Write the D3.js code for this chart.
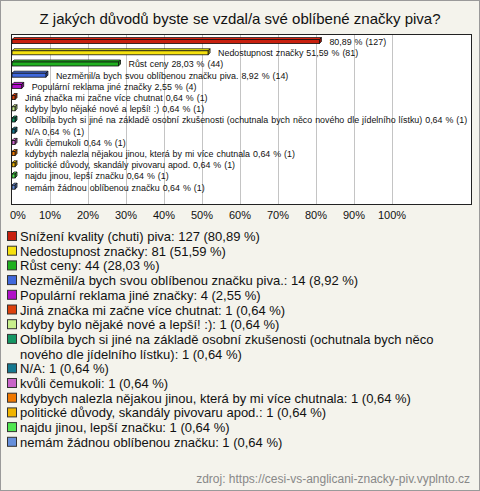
<!DOCTYPE html>
<html><head><meta charset="utf-8">
<script src="https://cdn.jsdelivr.net/npm/d3@7"></script>
<style>body{margin:0;background:#fff}svg{display:block}</style>
</head><body>
<script>
const title = "Z jakých důvodů byste se vzdal/a své oblíbené značky piva?";
const categories = [
  "Snížení kvality (chuti) piva",
  "Nedostupnost značky",
  "Růst ceny",
  "Nezměnil/a bych svou oblíbenou značku piva.",
  "Populární reklama jiné značky",
  "Jiná značka mi začne více chutnat",
  "kdyby bylo nějaké nové a lepší! :)",
  "Oblíbila bych si jiné na základě osobní zkušenosti (ochutnala bych něco nového dle jídelního lístku)",
  "N/A",
  "kvůli čemukoli",
  "kdybych nalezla nějakou jinou, která by mi více chutnala",
  "politické důvody, skandály pivovaru apod.",
  "najdu jinou, lepší značku",
  "nemám žádnou oblíbenou značku"
];
const counts = [127, 81, 44, 14, 4, 1, 1, 1, 1, 1, 1, 1, 1, 1];
const percents = [80.89, 51.59, 28.03, 8.92, 2.55, 0.64, 0.64, 0.64, 0.64, 0.64, 0.64, 0.64, 0.64, 0.64];
const showNameOnBar = [false, true, true, true, true, true, true, true, true, true, true, true, true, true];
const colors = ["#c8200f","#f5e10f","#20b020","#4068dc","#b010c8","#dc400c","#c8f08c","#149664","#147890","#c864c8","#f07800","#f0b400","#50e650","#6690dc"];
const ticks = [0,10,20,30,40,50,60,70,80,90,100];
const legendLines = [
  "Snížení kvality (chuti) piva: 127 (80,89 %)",
  "Nedostupnost značky: 81 (51,59 %)",
  "Růst ceny: 44 (28,03 %)",
  "Nezměnil/a bych svou oblíbenou značku piva.: 14 (8,92 %)",
  "Populární reklama jiné značky: 4 (2,55 %)",
  "Jiná značka mi začne více chutnat: 1 (0,64 %)",
  "kdyby bylo nějaké nové a lepší! :): 1 (0,64 %)",
  ["Oblíbila bych si jiné na základě osobní zkušenosti (ochutnala bych něco", "nového dle jídelního lístku): 1 (0,64 %)"],
  "N/A: 1 (0,64 %)",
  "kvůli čemukoli: 1 (0,64 %)",
  "kdybych nalezla nějakou jinou, která by mi více chutnala: 1 (0,64 %)",
  "politické důvody, skandály pivovaru apod.: 1 (0,64 %)",
  "najdu jinou, lepší značku: 1 (0,64 %)",
  "nemám žádnou oblíbenou značku: 1 (0,64 %)"
];
const source = "zdroj: https://cesi-vs-anglicani-znacky-piv.vyplnto.cz";

const W = 480, H = 491;
const fmt = v => v.toFixed(2).replace(".", ",");
const svg = d3.select("body").append("svg").attr("width", W).attr("height", H)
  .style("font-family", "'Liberation Sans', Arial, sans-serif");

svg.append("rect").attr("x", 0.5).attr("y", 0.5).attr("width", W - 1).attr("height", H - 1)
  .attr("fill", "#f4f3ec").attr("stroke", "#9a9a9a");

svg.append("text").attr("x", 240).attr("y", 24).attr("text-anchor", "middle")
  .attr("font-size", 15).attr("fill", "#111").text(title);

const plot = {x0: 11.5, x1: 471.5, y0: 34.5, y1: 204.5};
const x = d3.scaleLinear().domain([0, 100]).range([12, 392]);
const y = d3.scaleBand().domain(d3.range(categories.length)).range([36, 36 + 168 * categories.length / 15]).padding(0);

svg.append("rect").attr("x", plot.x0).attr("y", plot.y0).attr("width", plot.x1 - plot.x0)
  .attr("height", plot.y1 - plot.y0).attr("fill", "#fff");

svg.append("g").selectAll("line").data(ticks.slice(1)).join("line")
  .attr("x1", d => Math.round(x(d)) + 0.5).attr("x2", d => Math.round(x(d)) + 0.5)
  .attr("y1", plot.y0).attr("y2", plot.y1).attr("stroke", "#c4c4c4");

svg.append("rect").attr("x", plot.x0).attr("y", plot.y0).attr("width", plot.x1 - plot.x0)
  .attr("height", plot.y1 - plot.y0).attr("fill", "none").attr("stroke", "#222");

const depth = 2, bh = 4;
const bars = svg.append("g").selectAll("g").data(categories).join("g");
bars.each(function(d, i) {
  const g = d3.select(this);
  const cy = y(i) + y.bandwidth() / 2;
  const w = Math.max(x(percents[i]) - x(0), 3);
  const c = d3.color(colors[i]);
  const x0 = x(0);
  g.append("path").attr("d", `M${x0},${cy - bh/2} L${x0 + depth},${cy - bh/2 - depth} L${x0 + w + depth},${cy - bh/2 - depth} L${x0 + w},${cy - bh/2} Z`)
    .attr("fill", c.brighter(0.4)).attr("stroke", "#111").attr("stroke-width", 0.8);
  g.append("path").attr("d", `M${x0 + w},${cy - bh/2} L${x0 + w + depth},${cy - bh/2 - depth} L${x0 + w + depth},${cy + bh/2 - depth} L${x0 + w},${cy + bh/2} Z`)
    .attr("fill", c.darker(0.8)).attr("stroke", "#111").attr("stroke-width", 0.8);
  g.append("rect").attr("x", x0).attr("y", cy - bh/2).attr("width", w).attr("height", bh)
    .attr("fill", colors[i]).attr("stroke", "#111").attr("stroke-width", 0.8);
  g.append("text").attr("x", x0 + w + depth + 8).attr("y", cy + 1).attr("dominant-baseline", "middle")
    .attr("font-size", 8.9).attr("word-spacing", 0.5).attr("fill", "#111")
    .text((showNameOnBar[i] ? categories[i] + " " : "") + fmt(percents[i]) + " % (" + counts[i] + ")");
});

svg.append("g").selectAll("text").data(ticks).join("text")
  .attr("x", d => d === 0 ? 10 : x(d)).attr("y", 219)
  .attr("text-anchor", d => d === 0 ? "start" : "middle")
  .attr("font-size", 11).attr("fill", "#111").text(d => d + "%");

let ly = 241;
const step = 14.7;
legendLines.forEach((t, i) => {
  const lines = Array.isArray(t) ? t : [t];
  svg.append("rect").attr("x", 7.5).attr("y", ly - 9.5).attr("width", 9).attr("height", 9)
    .attr("fill", colors[i]).attr("stroke", "#333").attr("stroke-width", 1);
  lines.forEach((ln, k) => {
    svg.append("text").attr("x", 20).attr("y", ly + k * step).attr("font-size", 13)
      .attr("fill", "#111").text(ln);
  });
  ly += step * lines.length;
});

svg.append("text").attr("x", 470).attr("y", 483).attr("text-anchor", "end")
  .attr("font-size", 12).attr("fill", "#888").text(source);
</script>
</body></html>
